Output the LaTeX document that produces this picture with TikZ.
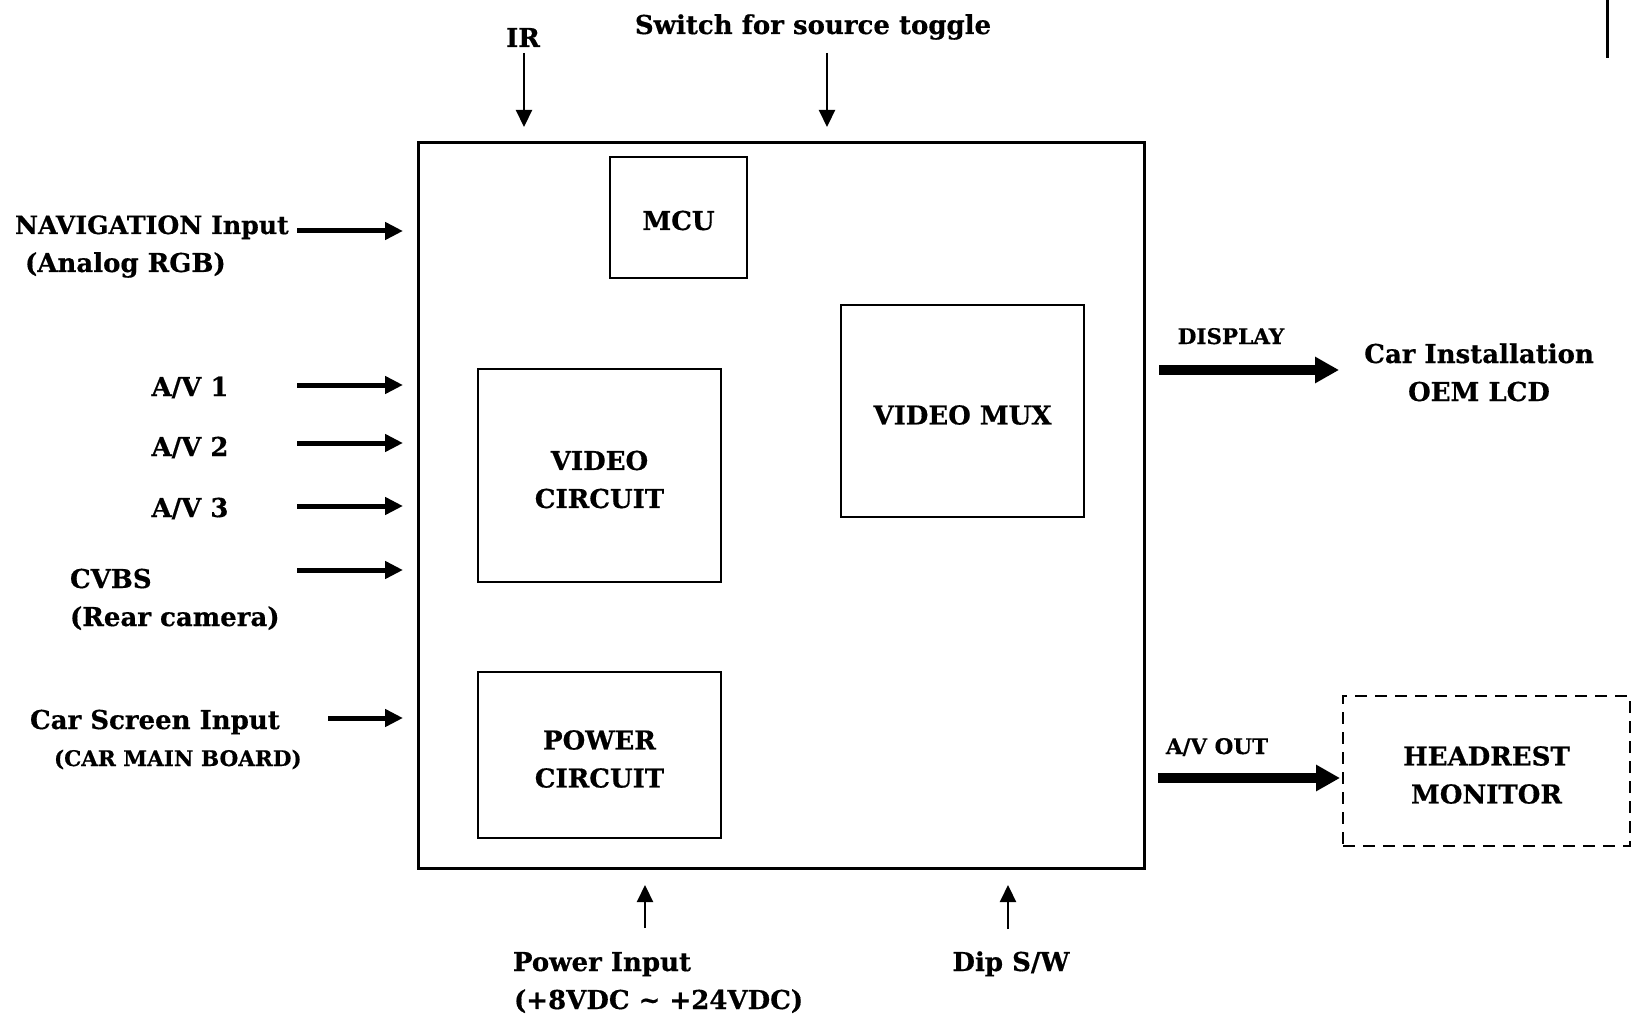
\documentclass[tikz,border=0pt]{standalone}
\usepackage{fontspec}
\setmainfont{DejaVu Serif}[BoldFeatures={FakeBold=0.5}]
\usetikzlibrary{arrows.meta}
\begin{document}
\begin{tikzpicture}[x=1pt,y=-1pt,
  every node/.style={inner sep=0pt, outer sep=0pt, font=\bfseries\fontsize{26}{38}\selectfont},
  small/.style={font=\bfseries\fontsize{21.5}{30}\selectfont},
  block/.style={draw, line width=2.5pt},
  boxtext/.style={align=center},
  dashbox/.style={dash pattern=on 12pt off 8pt},
  thinarrow/.style={line width=2.2pt, -{Triangle[length=17pt,width=16pt]}},
  medarrow/.style={line width=5pt, -{Triangle[length=18pt,width=17pt]}},
  thickarrow/.style={line width=9.5pt, -{Triangle[length=24pt,width=25pt]}},
]
\useasboundingbox (0,0) rectangle (1632,1016);

% blocks
\node[block, line width=3pt, minimum width=726pt, minimum height=725pt] (main) at (781,505.5) {};
\node[block, minimum width=137pt, minimum height=121pt] (mcu) at (678.5,217.5) {};
\node[block, minimum width=243pt, minimum height=213pt] (vc) at (599.5,475.5) {};
\node[block, minimum width=243pt, minimum height=166pt] (pc) at (599.5,755) {};
\node[block, minimum width=243pt, minimum height=212pt] (mux) at (962.5,411) {};
\node[block, dashbox, minimum width=287pt, minimum height=150pt] (hr) at (1486.5,771) {};

% block texts
\node[boxtext] (mcuT) at ([yshift=-3pt]mcu.center) {MCU};
\node[boxtext] (vcT) at ([yshift=-4pt]vc.center) {VIDEO\\CIRCUIT};
\node[boxtext] (pcT) at ([yshift=-4pt]pc.center) {POWER\\CIRCUIT};
\node[boxtext] (muxT) at ([yshift=-4pt]mux.center) {VIDEO MUX};
\node[boxtext] (hrT) at ([yshift=-4pt]hr.center) {HEADREST\\MONITOR};

% labels
\node[anchor=base] (ir) at (523,47) {IR};
\node[anchor=base] (sw) at (813,34) {Switch for source toggle};
\node[anchor=base west, font=\bfseries\fontsize{25.2}{38}\selectfont] (nav1) at (15,234) {NAVIGATION Input};
\node[anchor=base west] (nav2) at (25,272) {(Analog RGB)};
\node[anchor=base] (av1) at (190,396) {A/V 1};
\node[anchor=base] (av2) at (190,456) {A/V 2};
\node[anchor=base] (av3) at (190,517) {A/V 3};
\node[anchor=base west] (cv1) at (70,588) {CVBS};
\node[anchor=base west] (cv2) at (70,626) {(Rear camera)};
\node[anchor=base west] (cs1) at (30,729) {Car Screen Input};
\node[anchor=base west, small] (cs2) at (54,766) {(CAR MAIN BOARD)};
\node[anchor=base, small] (disp) at (1231,344) {DISPLAY};
\node[anchor=base] (ci1) at (1479,363) {Car Installation};
\node[anchor=base] (ci2) at (1479,401) {OEM LCD};
\node[anchor=base, small] (avo) at (1217,754) {A/V OUT};
\node[anchor=base west] (pw1) at (513,971) {Power Input};
\node[anchor=base west] (pw2) at (514,1009) {(+8VDC \char`\~\ +24VDC)};
\node[anchor=base] (dip) at (1011,971) {Dip S/W};

% arrow end points
\coordinate (irS) at (524,53);   \coordinate (irE) at (524,127);
\coordinate (swS) at (827,53);   \coordinate (swE) at (827,127);
\coordinate (pwS) at (645,928);  \coordinate (pwE) at (645,885);
\coordinate (dipS) at (1008,929); \coordinate (dipE) at (1008,885);
\coordinate (navS) at (297,231); \coordinate (navE) at (403,231);
\coordinate (av1S) at (297,385); \coordinate (av1E) at (403,385);
\coordinate (av2S) at (297,443); \coordinate (av2E) at (403,443);
\coordinate (av3S) at (297,506); \coordinate (av3E) at (403,506);
\coordinate (cvS) at (297,570);  \coordinate (cvE) at (403,570);
\coordinate (csS) at (328,718);  \coordinate (csE) at (403,718);
\coordinate (dispS) at (1159,370); \coordinate (dispE) at (1339,370);
\coordinate (avoS) at (1158,778); \coordinate (avoE) at (hr.west |- avoS);

% connectors
\draw[thinarrow] (irS) -- (irE);
\draw[thinarrow] (swS) -- (swE);
\draw[thinarrow] (pwS) -- (pwE);
\draw[thinarrow] (dipS) -- (dipE);
\draw[medarrow] (navS) -- (navE);
\draw[medarrow] (av1S) -- (av1E);
\draw[medarrow] (av2S) -- (av2E);
\draw[medarrow] (av3S) -- (av3E);
\draw[medarrow] (cvS) -- (cvE);
\draw[medarrow] (csS) -- (csE);
\draw[thickarrow] (dispS) -- (dispE);
\draw[thickarrow] (avoS) -- ([xshift=-3pt]avoE);

% stray edge mark at top right
\draw[line width=3pt] (1607,0) -- (1607,58);
\end{tikzpicture}
\end{document}
